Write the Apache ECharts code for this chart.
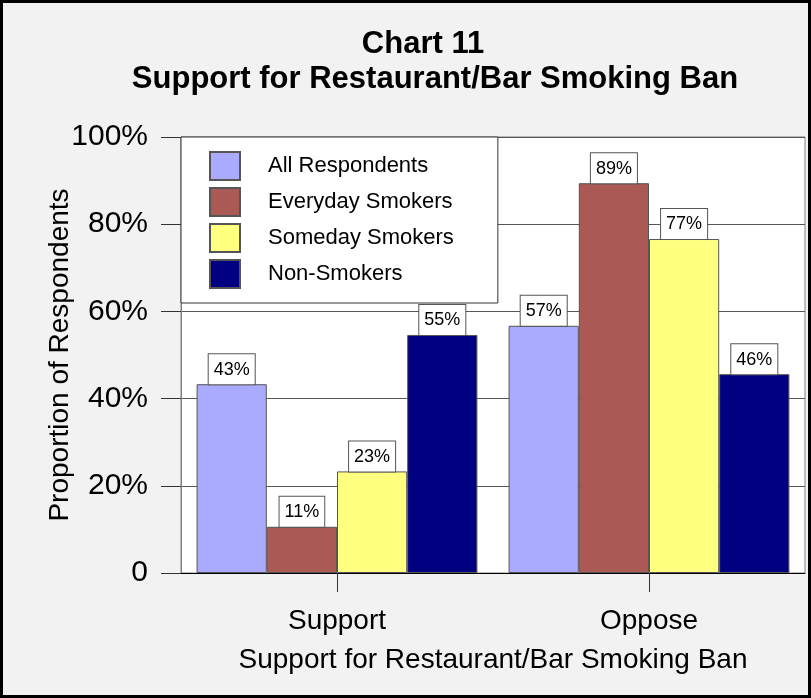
<!DOCTYPE html>
<html>
<head>
<meta charset="utf-8">
<script src="https://cdn.jsdelivr.net/npm/echarts@6/dist/echarts.min.js"></script>
<style>
html,body{margin:0;padding:0;background:#f2f2f2;}
#chart{width:811px;height:698px;}
</style>
</head>
<body>
<div id="chart"></div>
<script>
var categories = ['Support', 'Oppose'];
var seriesNames = ['All Respondents', 'Everyday Smokers', 'Someday Smokers', 'Non-Smokers'];
var allRespondents = [43.3, 56.7];
var everydaySmokers = [10.6, 89.4];
var somedaySmokers = [23.3, 76.6];
var nonSmokers = [54.6, 45.6];
var yTicks = [0, 20, 40, 60, 80, 100];

var colors = ['#aaaaff', '#aa5955', '#ffff80', '#000080'];
var values = [allRespondents, everydaySmokers, somedaySmokers, nonSmokers];
var FONT = 'Liberation Sans, Arial, sans-serif';

var chart = echarts.init(document.getElementById('chart'), null, {renderer: 'canvas'});
var series = seriesNames.map(function (name, i) {
  return {
    name: name,
    type: 'bar',
    data: values[i],
    barGap: '0%',
    barCategoryGap: '10%',
    itemStyle: {color: colors[i], borderColor: '#555', borderWidth: 1},
    label: {
      show: true,
      position: 'top',
      distance: 0,
      formatter: function (p) { return Math.round(p.value) + '%'; },
      fontFamily: FONT,
      fontSize: 18,
      lineHeight: 21,
      color: '#000',
      backgroundColor: '#fff',
      borderColor: '#555',
      borderWidth: 1,
      padding: [5, 5, 4, 5]
    }
  };
});

chart.setOption({
  backgroundColor: '#f2f2f2',
  animation: false,
  color: colors,
  title: [
    {text: 'Chart 11', left: 418, top: 24, textAlign: 'center',
     textStyle: {fontFamily: FONT, fontSize: 31, fontWeight: 'bold', color: '#000'}},
    {text: 'Support for Restaurant/Bar Smoking Ban', left: 430, top: 59, textAlign: 'center',
     textStyle: {fontFamily: FONT, fontSize: 31, fontWeight: 'bold', color: '#000'}}
  ],
  legend: {
    orient: 'vertical',
    left: 181,
    top: 137,
    padding: [14, 44, 14, 28],
    itemWidth: 30,
    itemHeight: 28,
    itemGap: 6,
    icon: 'rect',
    backgroundColor: '#fff',
    borderColor: '#333',
    borderWidth: 1,
    textStyle: {fontFamily: FONT, fontSize: 22, color: '#000', padding: [0, 0, 0, 23]},
    data: seriesNames
  },
  grid: {
    left: 181, top: 137, right: 6, bottom: 125,
    show: true, backgroundColor: '#fff', borderColor: '#808080', borderWidth: 1,
    containLabel: false
  },
  xAxis: {
    type: 'category',
    data: categories,
    name: 'Support for Restaurant/Bar Smoking Ban',
    nameLocation: 'middle',
    nameGap: 73,
    nameMoveOverlap: false,
    nameTextStyle: {fontFamily: FONT, fontSize: 28, color: '#000'},
    axisLine: {show: true, lineStyle: {color: '#000', width: 1}},
    axisTick: {show: true, alignWithLabel: true, length: 19, lineStyle: {color: '#333'}},
    axisLabel: {fontFamily: FONT, fontSize: 28, color: '#000', margin: 34},
    splitLine: {show: false}
  },
  yAxis: {
    type: 'value',
    min: yTicks[0],
    max: yTicks[yTicks.length - 1],
    interval: yTicks[1] - yTicks[0],
    name: 'Proportion of Respondents',
    nameLocation: 'middle',
    nameGap: 107,
    nameRotate: 90,
    nameMoveOverlap: false,
    nameTextStyle: {fontFamily: FONT, fontSize: 28, color: '#000'},
    axisLine: {show: true, lineStyle: {color: '#808080'}},
    axisTick: {show: true, length: 20, lineStyle: {color: '#333'}},
    axisLabel: {
      fontFamily: FONT, fontSize: 30, color: '#000', margin: 33,
      formatter: function (v) { return v === 0 ? '0' : v + '%'; }
    },
    splitLine: {show: true, lineStyle: {color: '#555', width: 1}}
  },
  series: series,
  graphic: [{
    type: 'rect', z: 100, silent: true,
    shape: {x: 1.5, y: 1.5, width: 808, height: 695},
    style: {fill: null, stroke: '#000', lineWidth: 3}
  }]
});
</script>
</body>
</html>
